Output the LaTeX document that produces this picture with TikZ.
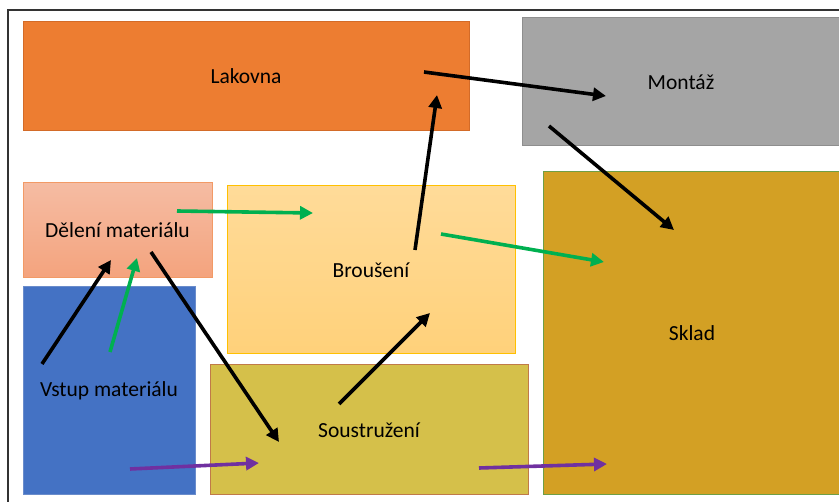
\documentclass[tikz,border=0pt]{standalone}
\usepackage{fontspec}
\setmainfont{Carlito}
\usetikzlibrary{arrows.meta}
\definecolor{lakF}{HTML}{ED7D31}\definecolor{lakD}{HTML}{D36B28}
\definecolor{monF}{HTML}{A5A5A5}\definecolor{monD}{HTML}{8E8E8E}
\definecolor{delT}{HTML}{F5BCA3}\definecolor{delB}{HTML}{F4A37D}\definecolor{delD}{HTML}{F29A66}
\definecolor{vstF}{HTML}{4472C4}\definecolor{vstD}{HTML}{6A8CCB}
\definecolor{broT}{HTML}{FFDB99}\definecolor{broB}{HTML}{FFD17A}\definecolor{broD}{HTML}{FFC000}
\definecolor{souF}{HTML}{D5C04A}\definecolor{souD}{HTML}{C07A48}
\definecolor{skF}{HTML}{D3A024}\definecolor{skD}{HTML}{6F9F45}
\definecolor{grn}{HTML}{00B050}\definecolor{prp}{HTML}{7030A0}
\tikzset{
  box/.style={rectangle, inner sep=0pt, line width=1pt, font=\fontsize{21.5}{25}\selectfont, text=black},
  flow/.style={line width=3.6pt, -{Triangle[length=13pt,width=13pt]}},
}
\begin{document}
\begin{tikzpicture}[x=1pt,y=-1pt]
\useasboundingbox (0,0) rectangle (839,502);
\fill[white] (0,0) rectangle (839,502);
\draw[line width=2pt, black!80] (8,503) -- (8,10) -- (840,10);
% boxes
\node[box, fill=lakF, draw=lakD, minimum width=446pt, minimum height=109pt] (lak) at (246,76.5) {Lakovna};
\node[box, fill=monF, draw=monD, minimum width=318pt, minimum height=128pt] (mon) at (681,82) {Montáž};
\node[box, top color=delT, bottom color=delB, draw=delD, minimum width=189pt, minimum height=95pt] (del) at (117.5,230.5) {Dělení materiálu};
\node[box, fill=vstF, draw=vstD, minimum width=172pt, minimum height=208pt] (vst) at (109,391) {Vstup materiálu};
\node[box, top color=broT, bottom color=broB, draw=broD, minimum width=288pt, minimum height=168pt] (bro) at (371,270) {Broušení};
\node[box, fill=souF, draw=souD, minimum width=318pt, minimum height=130pt] (sou) at (369,430) {Soustružení};
\node[box, fill=skF, draw=skD, minimum width=298pt, minimum height=323pt] (skl) at (692,333.5) {Sklad};
% arrow end points
\coordinate (a1s) at (424,72);  \coordinate (a1e) at (606,96);
\coordinate (a2s) at (549,126); \coordinate (a2e) at (674,230);
\coordinate (a3s) at (415,250); \coordinate (a3e) at (437,95);
\coordinate (a4s) at (339,404); \coordinate (a4e) at (430,313);
\coordinate (a5s) at (151,252); \coordinate (a5e) at (279,442);
\coordinate (a6s) at (42,364);  \coordinate (a6e) at (111,260);
\coordinate (g1s) at (110,352); \coordinate (g1e) at (137,258);
\coordinate (g2s) at (177,211); \coordinate (g2e) at (313,213);
\coordinate (g3s) at (441,234); \coordinate (g3e) at (604,262);
\coordinate (p1s) at (130,469); \coordinate (p1e) at (259,463);
\coordinate (p2s) at (479,468); \coordinate (p2e) at (607,464);
% arrows
\draw[flow, black] (a1s) -- (a1e);
\draw[flow, black] (a2s) -- (a2e);
\draw[flow, black] (a3s) -- (a3e);
\draw[flow, black] (a4s) -- (a4e);
\draw[flow, black] (a5s) -- (a5e);
\draw[flow, black] (a6s) -- (a6e);
\draw[flow, grn] (g1s) -- (g1e);
\draw[flow, grn] (g2s) -- (g2e);
\draw[flow, grn] (g3s) -- (g3e);
\draw[flow, prp] (p1s) -- (p1e);
\draw[flow, prp] (p2s) -- (p2e);
\end{tikzpicture}
\end{document}
